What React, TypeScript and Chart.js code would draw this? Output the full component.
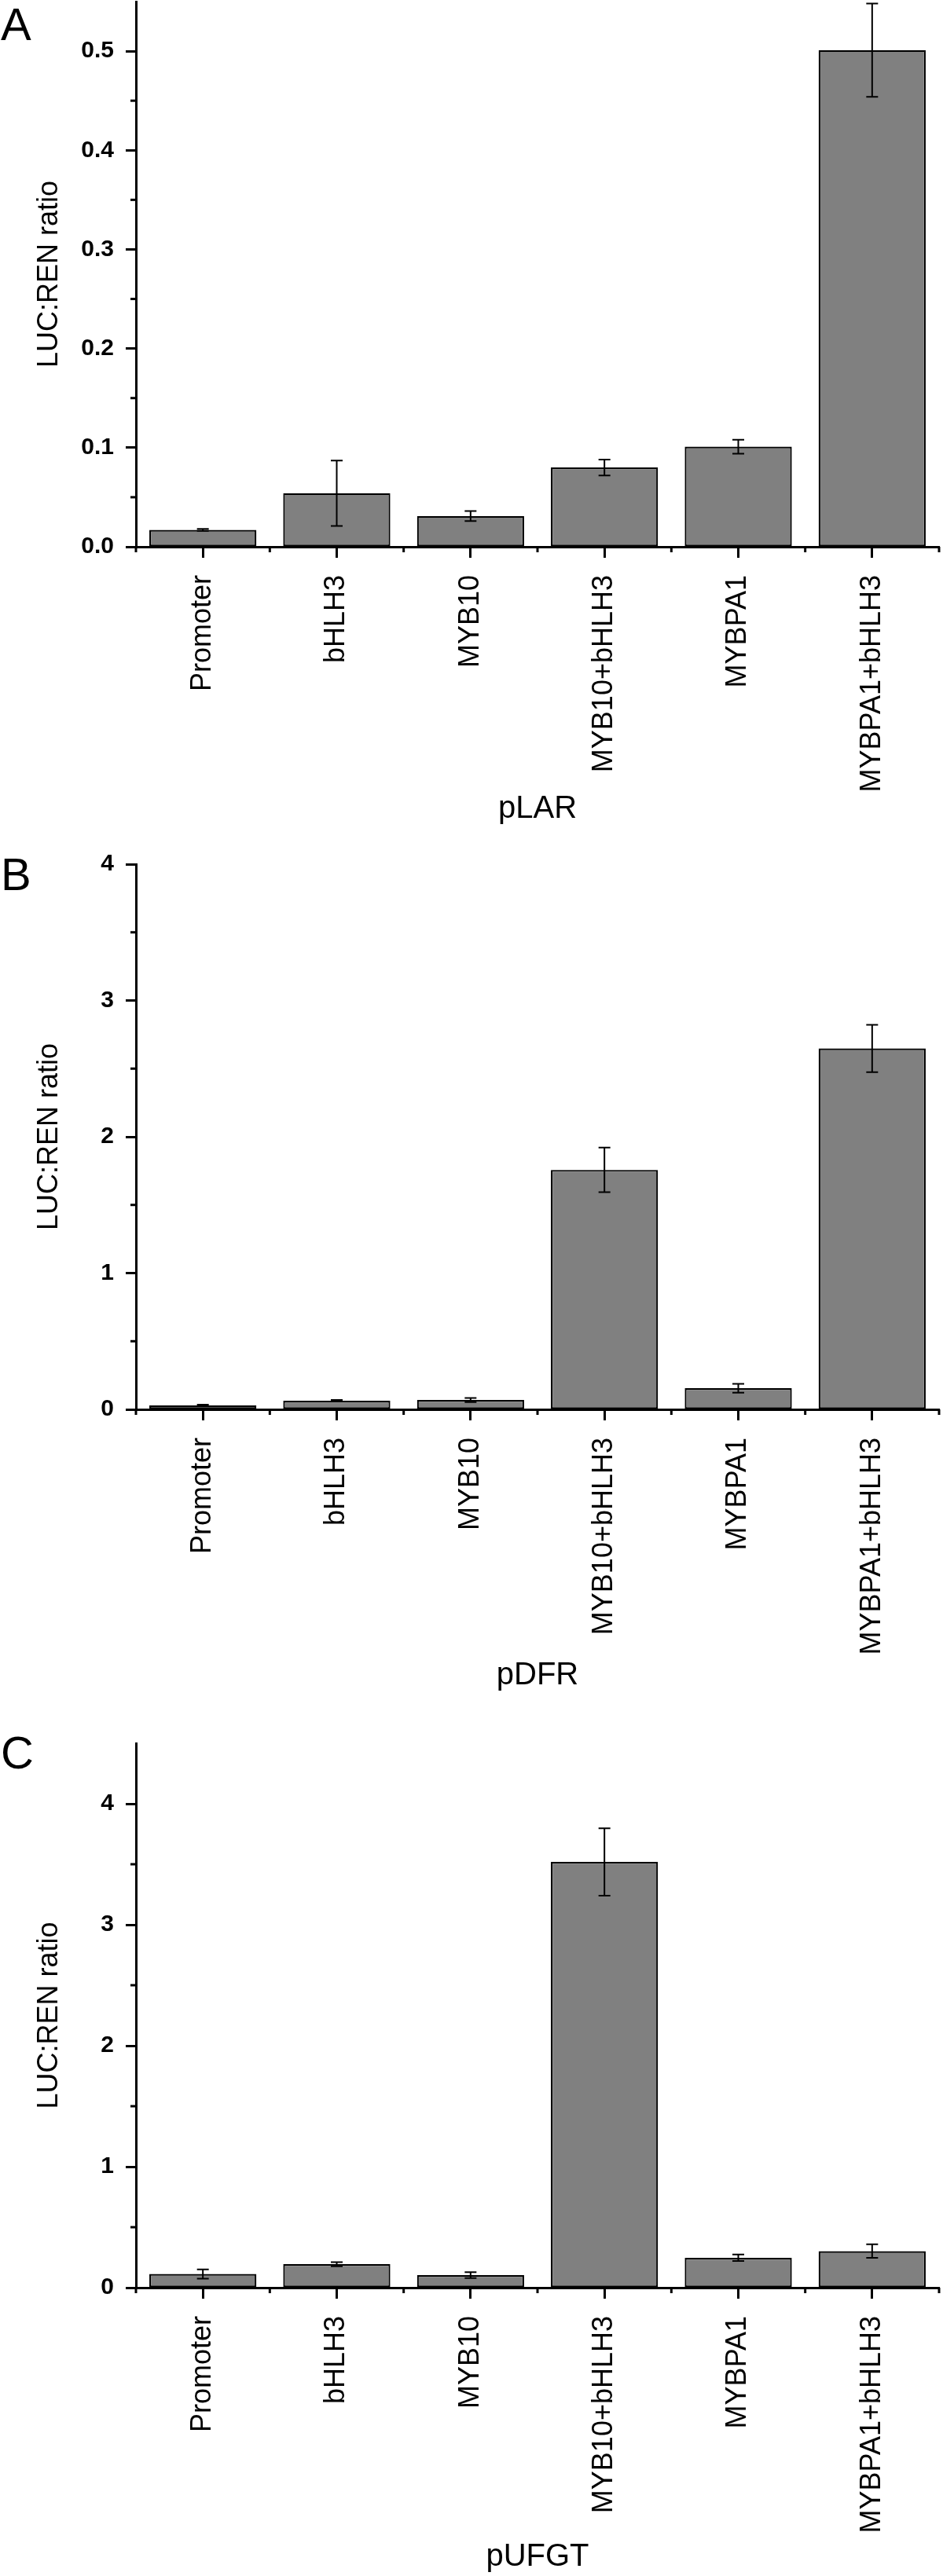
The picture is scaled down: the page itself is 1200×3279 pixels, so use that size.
import React, { useEffect, useRef } from "react";
import { Chart, registerables } from "chart.js";

Chart.register(...registerables);

const categories = ["Promoter", "bHLH3", "MYB10", "MYB10+bHLH3", "MYBPA1", "MYBPA1+bHLH3"];

const larMeans = [0.017, 0.054, 0.031, 0.080, 0.101, 0.501];
const larErrors = [0.001, 0.033, 0.005, 0.008, 0.007, 0.047];

const dfrMeans = [0.030, 0.063, 0.069, 1.757, 0.155, 2.648];
const dfrErrors = [0.004, 0.006, 0.015, 0.164, 0.033, 0.174];

const ufgtMeans = [0.113, 0.194, 0.104, 3.519, 0.247, 0.302];
const ufgtErrors = [0.038, 0.017, 0.025, 0.278, 0.027, 0.056];

const yTitle = "LUC:REN ratio";

type Panel = {
  letter: string;
  title: string;
  means: number[];
  errors: number[];
  max: number;
  step: number;
  decimals: number;
  top: number;
  height: number;
  areaTop: number;
  areaBottom: number;
  titlePad: number;
  letterTop: number;
};

const panels: Panel[] = [
  { letter: "A", title: "pLAR", means: larMeans, errors: larErrors, max: 0.55, step: 0.1, decimals: 1, top: 0, height: 1080, areaTop: 2, areaBottom: 696, titlePad: 26, letterTop: 2 },
  { letter: "B", title: "pDFR", means: dfrMeans, errors: dfrErrors, max: 4, step: 1, decimals: 0, top: 1080, height: 1110, areaTop: 20, areaBottom: 714, titlePad: 33, letterTop: 1084 },
  { letter: "C", title: "pUFGT", means: ufgtMeans, errors: ufgtErrors, max: 4.5, step: 1, decimals: 0, top: 2190, height: 1089, areaTop: 29, areaBottom: 722, titlePad: 0, letterTop: 2202 },
];

const AXIS_LEFT = 173;
const LW = 3;

const decorPlugin = {
  id: "decor",
  afterDatasetsDraw(chart: any, _args: any, opts: any) {
    const ctx = chart.ctx;
    const xs = chart.scales.x;
    const ys = chart.scales.y;
    const meta = chart.getDatasetMeta(0);
    const data = chart.data.datasets[0].data as number[];
    const errs: number[] = opts.errors || [];
    ctx.save();
    ctx.strokeStyle = "#000";
    ctx.lineWidth = 2;
    meta.data.forEach((bar: any, i: number) => {
      const v = data[i];
      const e = errs[i] || 0;
      const yt = ys.getPixelForValue(v + e);
      const yb = ys.getPixelForValue(Math.max(0, v - e));
      const x = bar.x;
      ctx.beginPath();
      ctx.moveTo(x, yt);
      ctx.lineTo(x, yb);
      ctx.moveTo(x - 7.5, yt);
      ctx.lineTo(x + 7.5, yt);
      ctx.moveTo(x - 7.5, yb);
      ctx.lineTo(x + 7.5, yb);
      ctx.stroke();
    });
    // minor y ticks
    ctx.lineWidth = LW;
    const step: number = opts.step;
    const max: number = opts.max;
    for (let v = step / 2; v < max - 1e-9; v += step) {
      const py = ys.getPixelForValue(v);
      ctx.beginPath();
      ctx.moveTo(xs.left - 7, py);
      ctx.lineTo(xs.left, py);
      ctx.stroke();
    }
    // boundary x ticks
    const n = data.length;
    const bounds: number[] = [xs.left];
    for (let i = 0; i < n - 1; i++) {
      bounds.push((xs.getPixelForValue(i) + xs.getPixelForValue(i + 1)) / 2);
    }
    bounds.push(xs.right);
    const axisY = ys.getPixelForValue(0);
    bounds.forEach((bx) => {
      ctx.beginPath();
      ctx.moveTo(bx, axisY);
      ctx.lineTo(bx, axisY + 7);
      ctx.stroke();
    });
    ctx.restore();
  },
};

function PanelChart({ p }: { p: Panel }) {
  const ref = useRef<HTMLCanvasElement | null>(null);
  useEffect(() => {
    if (!ref.current) return;
    const chart = new Chart(ref.current, {
      type: "bar",
      data: {
        labels: categories,
        datasets: [
          {
            data: p.means,
            backgroundColor: "#808080",
            borderColor: "#000000",
            borderWidth: 2.2,
            borderSkipped: false,
            barPercentage: 0.8,
            categoryPercentage: 1.0,
          },
        ],
      },
      options: {
        responsive: false,
        animation: false,
        devicePixelRatio: 1,
        layout: { padding: { top: p.areaTop, right: 5, bottom: 0, left: 0 } },
        plugins: {
          legend: { display: false },
          tooltip: { enabled: false },
          decor: { errors: p.errors, step: p.step, max: p.max },
        } as any,
        scales: {
          x: {
            type: "category",
            offset: true,
            grid: {
              display: true,
              offset: false,
              drawOnChartArea: false,
              drawTicks: true,
              tickLength: 14,
              tickWidth: LW,
              tickColor: "#000",
            },
            border: { display: true, color: "#000", width: LW },
            ticks: {
              autoSkip: false,
              minRotation: 90,
              maxRotation: 90,
              padding: 22,
              color: "#000",
              font: { family: "'Liberation Sans', Arial, sans-serif", size: 36, weight: "normal" },
            },
            title: {
              display: true,
              text: p.title,
              color: "#000",
              font: { family: "'Liberation Sans', Arial, sans-serif", size: 40, weight: "normal", lineHeight: 1.2 },
              padding: { top: 0, bottom: p.titlePad },
            },
            afterFit: (s: any) => {
              s.height = p.height - p.areaBottom;
              s.paddingLeft = 0;
              s.paddingRight = 0;
            },
          },
          y: {
            type: "linear",
            min: 0,
            max: p.max,
            grid: {
              display: true,
              drawOnChartArea: false,
              drawTicks: true,
              tickLength: 13,
              tickWidth: LW,
              tickColor: "#000",
            },
            border: { display: true, color: "#000", width: LW },
            ticks: {
              stepSize: p.step,
              includeBounds: false,
              padding: 15,
              color: "#000",
              font: { family: "'Liberation Sans', Arial, sans-serif", size: 30, weight: "bold" },
              callback: (v: any) => Number(v).toFixed(p.decimals),
            },
            title: {
              display: true,
              text: yTitle,
              color: "#000",
              font: { family: "'Liberation Sans', Arial, sans-serif", size: 36, weight: "normal", lineHeight: 1.2 },
              padding: { top: 41, bottom: 0 },
            },
            afterFit: (s: any) => {
              s.width = AXIS_LEFT;
              s.paddingTop = 0;
              s.paddingBottom = 0;
            },
          },
        },
      } as any,
      plugins: [decorPlugin],
    });
    return () => chart.destroy();
  }, [p]);
  return (
    <canvas
      ref={ref}
      width={1200}
      height={p.height}
      style={{ position: "absolute", left: 0, top: p.top, width: 1200, height: p.height, display: "block" }}
    />
  );
}

export default function App() {
  return (
    <div
      style={{
        position: "absolute",
        left: 0,
        top: 0,
        width: 1200,
        height: 3279,
        overflow: "hidden",
        background: "#fff",
      }}
    >
      {panels.map((p) => (
        <PanelChart key={p.letter} p={p} />
      ))}
      {panels.map((p) => (
        <div
          key={"l" + p.letter}
          style={{
            position: "absolute",
            left: 1,
            top: p.letterTop,
            fontFamily: "'Liberation Sans', Arial, sans-serif",
            fontSize: 58,
            lineHeight: 1,
            color: "#000",
          }}
        >
          {p.letter}
        </div>
      ))}
    </div>
  );
}
